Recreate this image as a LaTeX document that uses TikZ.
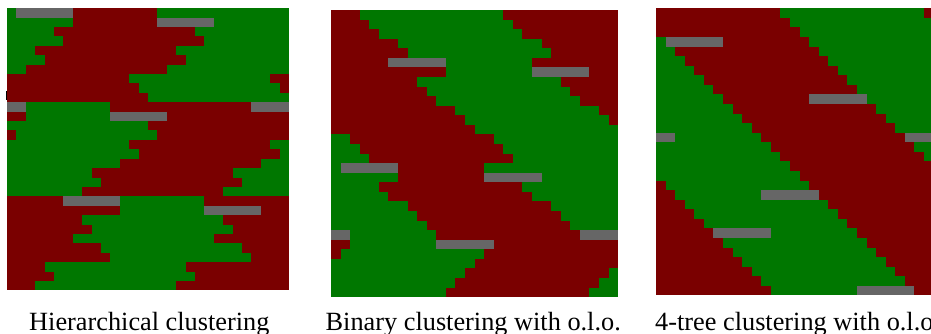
\documentclass[tikz,border=0pt]{standalone}
\usepackage{fontspec}
\setmainfont{Liberation Serif}
\definecolor{cr}{RGB}{122,0,0}
\definecolor{cg}{RGB}{0,119,0}
\definecolor{cy}{RGB}{102,102,102}
\tikzset{caption/.style={anchor=base west, inner sep=0pt, font=\fontsize{26.3}{30}\selectfont}}
\begin{document}
\begin{tikzpicture}[x=1pt,y=-1pt]
\useasboundingbox (0,0) rectangle (931,334);
\clip (0,0) rectangle (931,334);
\fill[white] (0,0) rectangle (931,334);
% panel 1
\begin{scope}[shift={(7,8.3)}]
\def\cellw{9.4}
\fill[cr] (0,0) rectangle ({30*\cellw},{30*\cellw});
\foreach \r/\a/\b/\c in {
0/0/0/cg, 0/1/6/cy, 0/16/29/cg,
1/0/6/cg, 1/16/21/cy, 1/22/29/cg,
2/0/4/cg, 2/20/29/cg,
3/0/5/cg, 3/21/29/cg,
4/0/2/cg, 4/18/29/cg,
5/0/3/cg, 5/19/29/cg,
6/0/1/cg, 6/17/29/cg,
7/13/27/cg,
8/14/28/cg,
9/15/29/cg,
10/0/1/cy, 10/2/10/cg, 10/26/29/cy,
11/2/10/cg, 11/11/16/cy,
12/0/14/cg,
13/1/15/cg,
14/0/12/cg, 14/28/29/cg,
15/0/13/cg, 15/29/29/cg,
16/0/11/cg, 16/27/29/cg,
17/0/8/cg, 17/24/29/cg,
18/0/9/cg, 18/25/29/cg,
19/0/7/cg, 19/23/29/cg,
20/6/11/cy, 20/12/20/cg,
21/12/20/cg, 21/21/26/cy,
22/8/22/cg,
23/9/23/cg,
24/7/21/cg,
25/10/24/cg,
26/11/25/cg,
27/4/18/cg,
28/5/19/cg,
29/3/17/cg}
{\fill[\c] ({\a*\cellw},{\r*\cellw}) rectangle ({(\b+1)*\cellw},{(\r+1)*\cellw});}
\end{scope}
\fill[black] (5.7,90.7) rectangle (6.7,100);
% panel 2
\begin{scope}[shift={(331,10)}]
\def\cellw{9.57}
\fill[cr] (0,0) rectangle ({30*\cellw},{30*\cellw});
\foreach \r/\a/\b/\c in {
0/3/17/cg,
1/4/18/cg,
2/5/19/cg,
3/7/21/cg,
4/8/22/cg,
5/6/11/cy, 5/12/20/cg,
6/12/20/cg, 6/21/26/cy,
7/9/23/cg,
8/10/24/cg,
9/11/25/cg,
10/13/27/cg,
11/14/28/cg,
12/15/29/cg,
13/0/1/cg, 13/17/29/cg,
14/0/2/cg, 14/18/29/cg,
15/0/3/cg, 15/19/29/cg,
16/0/0/cg, 16/1/6/cy, 16/16/29/cg,
17/0/6/cg, 17/16/21/cy, 17/22/29/cg,
18/0/4/cg, 18/20/29/cg,
19/0/5/cg, 19/21/29/cg,
20/0/7/cg, 20/23/29/cg,
21/0/8/cg, 21/24/29/cg,
22/0/9/cg, 22/25/29/cg,
23/0/1/cy, 23/2/10/cg, 23/26/29/cy,
24/2/10/cg, 24/11/16/cy,
25/1/15/cg,
26/0/14/cg,
27/0/13/cg, 27/29/29/cg,
28/0/12/cg, 28/28/29/cg,
29/0/11/cg, 29/27/29/cg}
{\fill[\c] ({\a*\cellw},{\r*\cellw}) rectangle ({(\b+1)*\cellw},{(\r+1)*\cellw});}
\end{scope}
% panel 3
\begin{scope}[shift={(656,8.3)}]
\def\cellw{9.57}
\fill[cr] (0,0) rectangle ({30*\cellw},{30*\cellw});
\foreach \r/\a/\b/\c in {
0/13/27/cg,
1/14/28/cg,
2/15/29/cg,
3/0/0/cg, 3/1/6/cy, 3/16/29/cg,
4/0/1/cg, 4/17/29/cg,
5/0/2/cg, 5/18/29/cg,
6/0/3/cg, 6/19/29/cg,
7/0/4/cg, 7/20/29/cg,
8/0/5/cg, 8/21/29/cg,
9/0/6/cg, 9/16/21/cy, 9/22/29/cg,
10/0/7/cg, 10/23/29/cg,
11/0/8/cg, 11/24/29/cg,
12/0/9/cg, 12/25/29/cg,
13/0/1/cy, 13/2/10/cg, 13/26/29/cy,
14/0/11/cg, 14/27/29/cg,
15/0/12/cg, 15/28/29/cg,
16/0/13/cg, 16/29/29/cg,
17/0/14/cg,
18/1/15/cg,
19/2/10/cg, 19/11/16/cy,
20/3/17/cg,
21/4/18/cg,
22/5/19/cg,
23/6/11/cy, 23/12/20/cg,
24/7/21/cg,
25/8/22/cg,
26/9/23/cg,
27/10/24/cg,
28/11/25/cg,
29/12/20/cg, 29/21/26/cy}
{\fill[\c] ({\a*\cellw},{\r*\cellw}) rectangle ({(\b+1)*\cellw},{(\r+1)*\cellw});}
\end{scope}
% captions
\node[caption] (cap1) at (29,330) {Hierarchical clustering};
\node[caption] (cap2) at (325.5,330) {Binary clustering with o.l.o.};
\node[caption] (cap3) at (655,330) {4-tree clustering with o.l.o.};
\end{tikzpicture}
\end{document}
